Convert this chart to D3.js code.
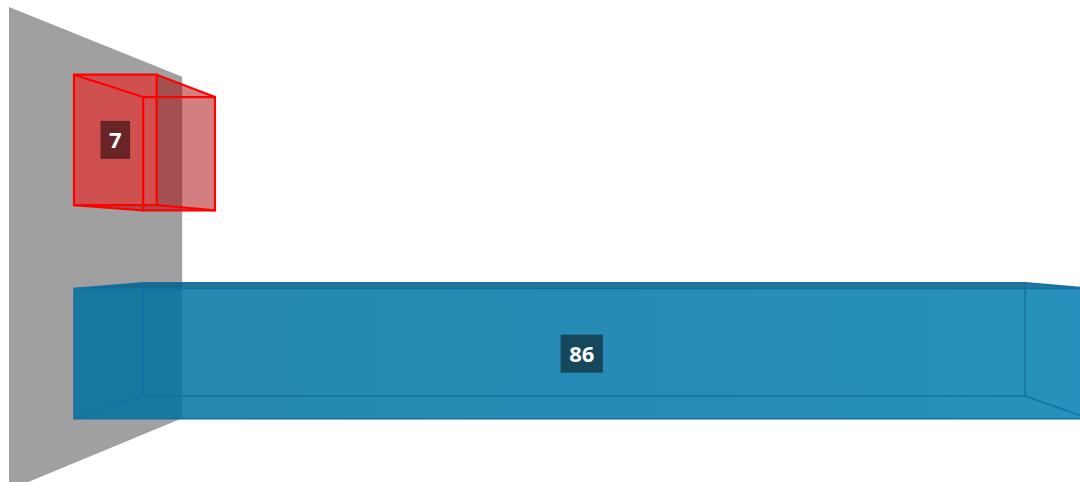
<!DOCTYPE html>
<html>
<head>
<meta charset="utf-8">
<script src="https://cdn.jsdelivr.net/npm/d3@7"></script>
<style>
  body { margin: 0; background: #fff; }
</style>
</head>
<body>
<div id="chart"></div>
<script>
// chart data
var categories = ["Category 1", "Category 2"];
var values = [7, 86];
var barColors = ["#ff0000", "#0079ac"];
var edgeColors = ["#ff0000", "#1470a4"];
var labelColors = ["#692426", "#16475d"];

var width = 1080, height = 482;
// vanishing point + depth factors (1 = nearest plane)
var vp = {x: 600, y: 245};
var depth = {wallNear: 1, wallFar: 0.707, barFront: 0.89, barBack: 0.773};
var wallTop = 7, wallBottom = 490;

var svg = d3.select("#chart").append("svg")
    .attr("width", width)
    .attr("height", height);

var x = d3.scaleLinear()
    .domain([0, d3.max(values)])
    .range([9, 1150]);

var y = d3.scaleBand()
    .domain(categories)
    .range([8, 486])
    .paddingInner(0.39)
    .paddingOuter(0.19);

function proj(px, py, s) {
    return [vp.x + (px - vp.x) * s, vp.y + (py - vp.y) * s];
}
function poly(pts) {
    return "M" + pts.map(function(p) { return p[0] + "," + p[1]; }).join("L") + "Z";
}

// gradient for the blue front face
var defs = svg.append("defs");
var grad = defs.append("linearGradient").attr("id", "blueFront")
    .attr("x1", "0%").attr("x2", "100%").attr("y1", "0%").attr("y2", "0%");
grad.append("stop").attr("offset", "0%").attr("stop-color", "#00719f");
grad.append("stop").attr("offset", "100%").attr("stop-color", "#007eb0");

// side wall
svg.append("path")
    .attr("d", poly([
        proj(x(0), wallTop, depth.wallNear),
        proj(x(0), wallTop, depth.wallFar),
        proj(x(0), wallBottom, depth.wallFar),
        proj(x(0), wallBottom, depth.wallNear)
    ]))
    .attr("fill", "#a0a0a0");

var bars = svg.append("g").attr("class", "bars");

values.forEach(function(v, i) {
    var c = categories[i];
    var x0 = x(0), x1 = x(v);
    var y0 = y(c), y1 = y(c) + y.bandwidth();
    var sf = depth.barFront, sb = depth.barBack;

    var ftl = proj(x0, y0, sf), ftr = proj(x1, y0, sf), fbr = proj(x1, y1, sf), fbl = proj(x0, y1, sf);
    var btl = proj(x0, y0, sb), btr = proj(x1, y0, sb), bbr = proj(x1, y1, sb), bbl = proj(x0, y1, sb);

    var base = d3.rgb(barColors[i]);
    var side = base.darker(1.15);
    var g = bars.append("g");
    var op = i === 0 ? 0.5 : 0.85;

    // top or bottom face, whichever the eye sees
    if (y1 < vp.y) {
        g.append("path").attr("d", poly([fbl, fbr, bbr, bbl]))
            .attr("fill", side).attr("fill-opacity", op);
    } else if (y0 > vp.y) {
        g.append("path").attr("d", poly([ftl, ftr, btr, btl]))
            .attr("fill", base.darker(0.7)).attr("fill-opacity", op);
    }
    // right face
    if (x1 < vp.x) {
        g.append("path").attr("d", poly([ftr, btr, bbr, fbr]))
            .attr("fill", side).attr("fill-opacity", 0.5);
    }
    // front face
    g.append("path").attr("d", poly([ftl, ftr, fbr, fbl]))
        .attr("fill", i === 1 ? "url(#blueFront)" : base)
        .attr("fill-opacity", op);

    // edges
    var edges = [[ftl, ftr, fbr, fbl], [btl, btr, bbr, bbl]];
    var lw = i === 0 ? 2.2 : 1.5;
    edges.forEach(function(e) {
        g.append("path").attr("d", poly(e))
            .attr("fill", "none")
            .attr("stroke", edgeColors[i])
            .attr("stroke-width", lw);
    });
    [[ftl, btl], [ftr, btr], [fbr, bbr], [fbl, bbl]].forEach(function(l) {
        g.append("line")
            .attr("x1", l[0][0]).attr("y1", l[0][1])
            .attr("x2", l[1][0]).attr("y2", l[1][1])
            .attr("stroke", edgeColors[i])
            .attr("stroke-width", lw);
    });

    // value label in the middle of the front face
    var cx = (ftl[0] + ftr[0]) / 2, cy = (ftl[1] + fbl[1]) / 2;
    var lab = g.append("g").attr("transform", "translate(" + cx + "," + cy + ")");
    var box = lab.append("rect").attr("fill", labelColors[i]);
    var t = lab.append("text")
        .attr("text-anchor", "middle")
        .attr("dy", "0.36em")
        .style("font-family", "'Open Sans', sans-serif")
        .style("font-weight", "bold")
        .style("font-size", "22px")
        .attr("fill", "#ffffff")
        .text(v);
    var tw = t.node().getComputedTextLength();
    box.attr("x", -tw / 2 - 8.5).attr("y", -19)
        .attr("width", tw + 17).attr("height", 38);
});
</script>
</body>
</html>
